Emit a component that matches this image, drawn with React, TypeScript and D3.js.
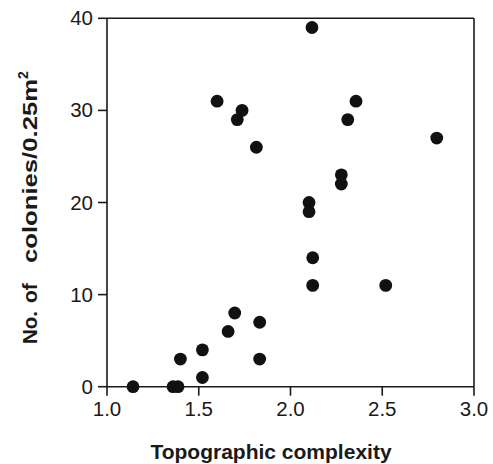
import React from "react";
import * as d3 from "d3";

const complexity = [2.117, 1.6, 1.736, 1.71, 1.814, 2.357, 2.312, 2.797, 2.277, 2.277, 2.101, 2.101, 2.121, 2.121, 2.519, 1.696, 1.66, 1.832, 1.832, 1.52, 1.52, 1.4, 1.142, 1.36, 1.387];
const colonies = [39, 31, 30, 29, 26, 31, 29, 27, 23, 22, 20, 19, 14, 11, 11, 8, 6, 7, 3, 4, 1, 3, 0, 0, 0];
const xTicks = [1.0, 1.5, 2.0, 2.5, 3.0];
const yTicks = [0, 10, 20, 30, 40];

const W = 493, H = 464;
const L = 107, R = 474, T = 18.3, B = 386.7;

export default function App() {
  const x = d3.scaleLinear().domain([1, 3]).range([L, R]);
  const y = d3.scaleLinear().domain([0, 40]).range([B, T]);
  const font = "'Liberation Sans', Arial, Helvetica, sans-serif";
  return (
    <svg width={W} height={H} style={{ position: "absolute", left: 0, top: 0 }} fontFamily={font}>
      <rect x={0} y={0} width={W} height={H} fill="#fff" />
      <g stroke="#1a1a1a" strokeWidth={1.6} fill="none">
        <line x1={L} y1={T} x2={L} y2={B} />
        <line x1={L} y1={B} x2={R} y2={B} />
        <line x1={L} y1={T} x2={R} y2={T} />
        <line x1={R} y1={T} x2={R} y2={B} />
        {xTicks.map((t) => (
          <line key={"xt" + t} x1={x(t)} x2={x(t)} y1={B} y2={B + 9} />
        ))}
        {yTicks.map((t) => (
          <line key={"yt" + t} x1={L - 9} x2={L} y1={y(t)} y2={y(t)} />
        ))}
      </g>
      <g fontSize={20.5} fill="#1a1a1a">
        {xTicks.map((t) => (
          <text key={"xl" + t} x={x(t)} y={416} textAnchor="middle">{t.toFixed(1)}</text>
        ))}
        {yTicks.map((t) => (
          <text key={"yl" + t} x={93} y={y(t) + 7} textAnchor="end">{t}</text>
        ))}
      </g>
      <g fill="#111">
        {complexity.map((c, i) => (
          <circle key={i} cx={x(c)} cy={y(colonies[i])} r={6.4} />
        ))}
      </g>
      <text x={271} y={459} textAnchor="middle" fontSize={21} fontWeight="bold" fill="#1a1a1a">Topographic complexity</text>
      <g fontSize={21} fontWeight="bold" fill="#1a1a1a">
        <text transform="translate(37,344) rotate(-90)" textAnchor="start" textLength={33} lengthAdjust="spacingAndGlyphs">No.</text>
        <text transform="translate(37,303) rotate(-90)" textAnchor="start">of</text>
        <text transform="translate(37,263) rotate(-90)" textAnchor="start" textLength={184} lengthAdjust="spacingAndGlyphs">colonies/0.25m</text>
        <text transform="translate(28,79) rotate(-90)" textAnchor="start" fontSize={14}>2</text>
      </g>
    </svg>
  );
}
